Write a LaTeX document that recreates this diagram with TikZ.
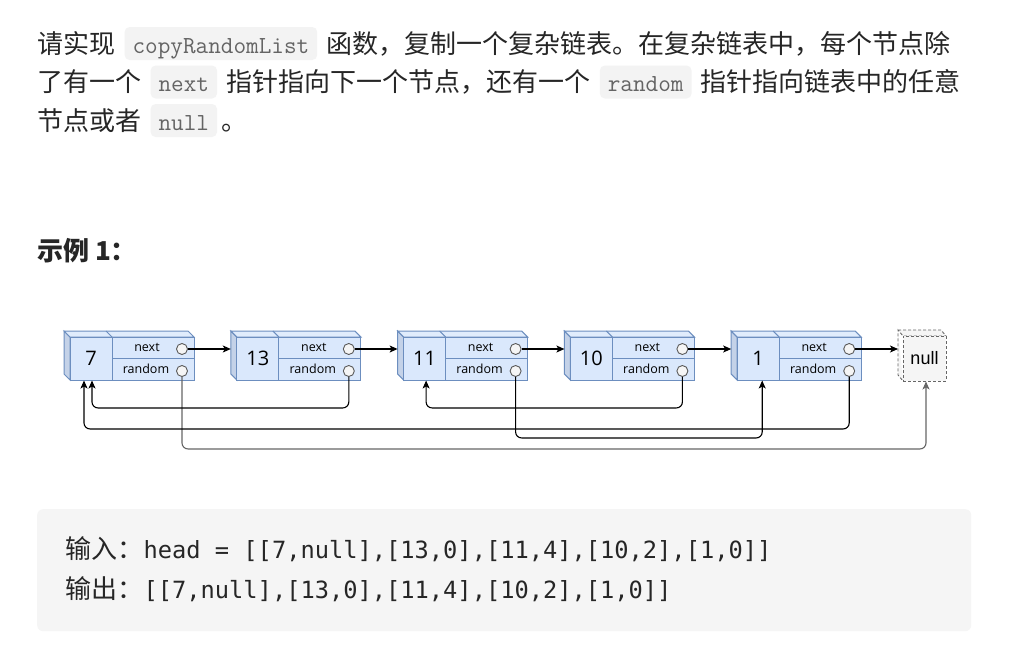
\documentclass[tikz,border=0pt]{standalone}
\usepackage{fontspec}
\usepackage{tikz}
\usetikzlibrary{positioning,arrows.meta}
\newfontfamily\cjk{Noto Sans CJK SC}
\newfontfamily\codefont{DejaVu Sans Mono}
\newfontfamily\diafont{Open Sans}
\newfontfamily\boxfont{Liberation Sans}
\definecolor{txtgray}{RGB}{38,38,38}
\definecolor{codegray}{RGB}{100,100,100}
\definecolor{codebg}{RGB}{243,243,243}
\definecolor{blockbg}{RGB}{245,245,245}
\definecolor{cellfill}{RGB}{218,232,252}
\definecolor{topfill}{RGB}{224,236,252}
\definecolor{sidefill}{RGB}{196,210,232}
\definecolor{cellline}{RGB}{108,142,191}
\definecolor{nullfill}{RGB}{245,245,245}
\definecolor{nullline}{RGB}{102,102,102}
\definecolor{dotline}{RGB}{90,90,90}

\tikzset{
  para/.style={inner sep=0pt, text=txtgray, font=\cjk\fontsize{26}{39}\selectfont},
  code/.style={fill=codebg, rounded corners=5pt, inner xsep=8pt, inner ysep=0pt,
    text height=26pt, text depth=7pt, text=codegray, font=\ttfamily\fontsize{24.5}{30}\selectfont},
  mono/.style={inner sep=0pt, text=txtgray, font=\codefont\fontsize{23.7}{30}\selectfont},
  valcell/.style={draw=cellline, fill=cellfill, line width=1pt, minimum width=42pt,
    minimum height=43pt, inner sep=0pt, font=\diafont\fontsize{20}{21}\selectfont},
  ptrcell/.style={draw=cellline, fill=cellfill, line width=1pt, minimum width=82pt,
    minimum height=21.5pt, inner sep=0pt},
  ptrlabel/.style={inner sep=0pt, font=\diafont\fontsize{12.5}{13}\selectfont},
  ptrdot/.style={circle, draw=dotline, fill=white!96!black, line width=0.9pt,
    minimum size=11pt, inner sep=0pt},
  nullbox/.style={draw=nullline, fill=nullfill, dash pattern=on 3pt off 2pt, line width=0.9pt,
    minimum width=43pt, minimum height=45pt, inner sep=0pt, font=\boxfont\fontsize{18}{20}\selectfont},
  nextarrow/.style={line width=1.1pt, -{Stealth[length=8pt,width=7pt,inset=2pt]}},
  randarrow/.style={line width=1.1pt, rounded corners=6pt, -{Stealth[length=8pt,width=7pt,inset=2pt]}}
}

\begin{document}
\begin{tikzpicture}[x=1pt,y=1pt,yscale=-1,xscale=1]
\fill[white] (0,0) rectangle (1010,659);
\useasboundingbox (0,0) rectangle (1010,659);

%Text: description
\node[para, anchor=base west] (p1a) at (37,53) {请实现};
\node[code, base right=9pt of p1a] (p1b) {copyRandomList};
\node[para, base right=9pt of p1b] (p1c) {函数，复制一个复杂链表。在复杂链表中，每个节点除};
\node[para, anchor=base west] (p2a) at (37,91.5) {了有一个};
\node[code, base right=9pt of p2a] (p2b) {next};
\node[para, base right=9pt of p2b] (p2c) {指针指向下一个节点，还有一个};
\node[code, base right=9pt of p2c] (p2d) {random};
\node[para, base right=9pt of p2d] (p2e) {指针指向链表中的任意};
\node[para, anchor=base west] (p3a) at (37,130) {节点或者};
\node[code, base right=9pt of p3a] (p3b) {null};
\node[para, base right=4pt of p3b] (p3c) {。};

%Text: heading
\node[para, anchor=base west, font=\cjk\bfseries\fontsize{26}{39}\selectfont] (ex) at (37,260) {示例 1：};

%Shape: list nodes
\foreach \val [count=\i from 0] in {7,13,11,10,1}{
  \pgfmathsetmacro\xl{70+166.8*\i}
  \draw[cellline, fill=sidefill, line width=1pt] (\xl-6,331) -- (\xl,337) -- (\xl,380) -- (\xl-6,374) -- cycle;
  \draw[cellline, fill=topfill, line width=1pt] (\xl-6,331) -- (\xl+118,331) -- (\xl+124,337) -- (\xl,337) -- cycle;
  \draw[cellline, line width=1pt] (\xl+36,331) -- (\xl+42,337);
  \node[valcell] (v\i) at (\xl+21,358.5) {\val};
  \node[ptrcell] (n\i) at (\xl+83,347.75) {};
  \node[ptrcell] (r\i) at (\xl+83,369.25) {};
  \node[ptrlabel, xshift=-6pt] (nt\i) at (n\i) {next};
  \node[ptrlabel, xshift=-7pt, yshift=0.5pt] (rt\i) at (r\i) {random};
  \node[ptrdot] (cn\i) at (\xl+112,349) {};
  \node[ptrdot] (cr\i) at (\xl+112,371) {};
  \coordinate (s\i) at (\xl-6,349);
}

%Shape: null
\draw[nullline, fill=nullfill, dash pattern=on 3pt off 2pt, line width=0.9pt] (898,330) -- (941,330) -- (946,336) -- (903,336) -- (898,330) -- (898,375) -- (903,381);
\node[nullbox] (nul) at (924.5,358.5) {null};
\coordinate (sn) at (898,349);

%Straight Lines: next pointers
\foreach \i/\j in {0/1,1/2,2/3,3/4}
  \draw[nextarrow] (cn\i) -- (s\j);
\draw[nextarrow] (cn4) -- (sn);

%Curve Lines: random pointers
\draw[randarrow, draw=nullline] (cr0.south) -- ++(0,72) -| ([xshift=1.5pt]nul.south);
\draw[randarrow] (cr1.south) -- ++(0,31) -| ([xshift=1pt]v0.south);
\draw[randarrow] (cr2.south) -- ++(0,61) -| ([xshift=4pt]v4.south);
\draw[randarrow] (cr3.south) -- ++(0,31) -| ([xshift=1.5pt]v2.south);
\draw[randarrow] (cr4.south) -- ++(0,52) -| ([xshift=-7pt]v0.south);

%Shape: example block
\node[fill=blockbg, rounded corners=6pt, inner sep=0pt, minimum width=934pt, minimum height=122pt, anchor=north west] (blk) at (37,509) {};
\node[para, anchor=base west] (in1) at (65,558) {输入：};
\node[mono, base right=0pt of in1] (in2) {head = [[7,null],[13,0],[11,4],[10,2],[1,0]]};
\node[para, anchor=base west] (out1) at (65,598) {输出：};
\node[mono, base right=0pt of out1] (out2) {[[7,null],[13,0],[11,4],[10,2],[1,0]]};

\end{tikzpicture}
\end{document}
